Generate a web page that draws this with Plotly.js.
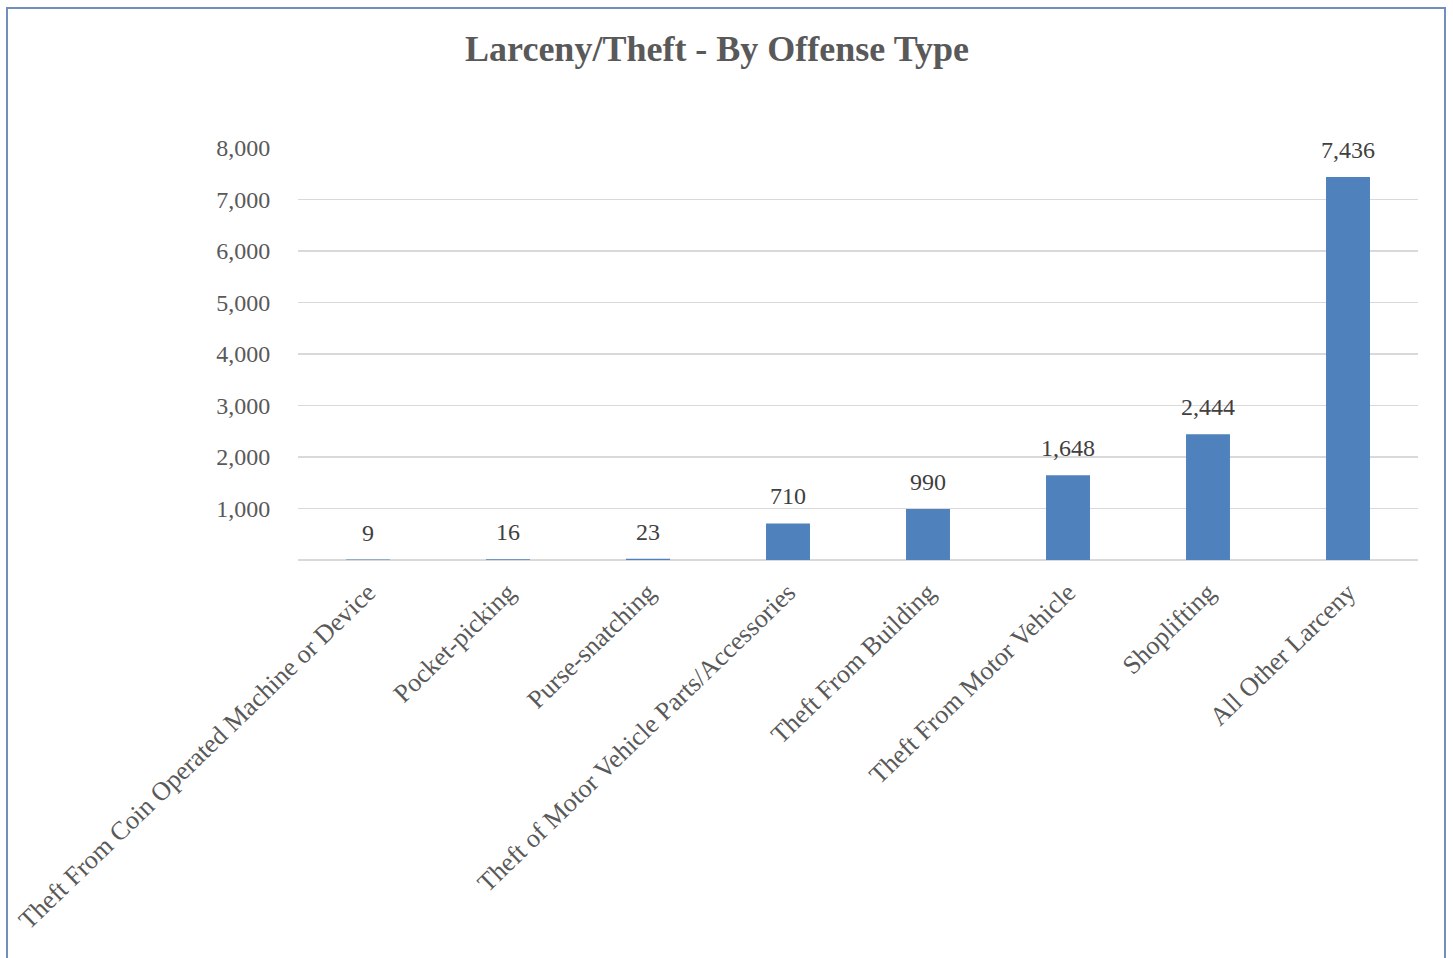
<!DOCTYPE html>
<html>
<head>
<meta charset="utf-8">
<script src="https://cdn.plot.ly/plotly-3.0.1.min.js"></script>
<style>
  html, body { margin: 0; padding: 0; background: #ffffff; }
  #wrap { position: relative; width: 1453px; height: 958px; overflow: hidden; }
  #chart { width: 1453px; height: 958px; }
  #frame { position: absolute; left: 6px; top: 7px; width: 1440px; height: 1000px;
           border: 2px solid #6f8fbd; box-sizing: border-box; pointer-events: none; }
</style>
</head>
<body>
<div id="wrap">
  <div id="chart"></div>
  <div id="frame"></div>
</div>
<script>
const categories = [
  "Theft From Coin Operated Machine or Device",
  "Pocket-picking",
  "Purse-snatching",
  "Theft of Motor Vehicle Parts/Accessories",
  "Theft From Building",
  "Theft From Motor Vehicle",
  "Shoplifting",
  "All Other Larceny"
];
const values = [9, 16, 23, 710, 990, 1648, 2444, 7436];
const gridTicks = [0, 1000, 2000, 3000, 4000, 5000, 6000, 7000];
const labelTicks = [1000, 2000, 3000, 4000, 5000, 6000, 7000, 8000];
const labelText = ["1,000", "2,000", "3,000", "4,000", "5,000", "6,000", "7,000", "8,000"];
const chartTitle = "Larceny/Theft - By Offense Type";

const serif = "Liberation Serif, Times New Roman, serif";

const trace = {
  type: "bar",
  x: categories,
  y: values,
  marker: { color: "#4f81bd" },
  hoverinfo: "x+y"
};

const valueLabels = categories.map((c, i) => ({
  x: c,
  y: values[i],
  xref: "x",
  yref: "y",
  text: values[i].toLocaleString("en-US"),
  showarrow: false,
  xanchor: "center",
  yanchor: "bottom",
  yshift: 12,
  font: { family: serif, size: 24, color: "#404040" }
}));

const layout = {
  width: 1453,
  height: 958,
  paper_bgcolor: "#ffffff",
  plot_bgcolor: "#ffffff",
  margin: { l: 298, r: 35, t: 148, b: 398 },
  showlegend: false,
  bargap: 0.686,
  title: {
    text: "<b>" + chartTitle + "</b>",
    font: { family: serif, size: 36, color: "#595959" },
    x: 0.4935, xanchor: "center",
    y: 0.949, yanchor: "middle"
  },
  annotations: valueLabels,
  xaxis: {
    type: "category",
    tickangle: -44,
    tickfont: { family: serif, size: 26, color: "#595959" },
    showline: false,
    ticks: "outside",
    ticklen: 6,
    tickcolor: "rgba(0,0,0,0)",
    showgrid: false,
    automargin: false
  },
  yaxis: {
    range: [0, 8000],
    tickvals: gridTicks,
    showticklabels: false,
    showgrid: true,
    gridcolor: "#d9d9d9",
    gridwidth: 1.3,
    zeroline: true,
    zerolinecolor: "#d9d9d9",
    zerolinewidth: 1.6,
    showline: false,
    ticks: "",
    fixedrange: true,
    automargin: false
  },
  yaxis2: {
    overlaying: "y",
    side: "left",
    range: [0, 8000],
    tickvals: labelTicks,
    ticktext: labelText,
    tickfont: { family: serif, size: 24, color: "#595959" },
    showgrid: false,
    zeroline: false,
    showline: false,
    ticks: "outside",
    ticklen: 22,
    tickcolor: "rgba(0,0,0,0)",
    automargin: false
  }
};

const dummy = {
  type: "scatter",
  x: [categories[0]],
  y: [0],
  yaxis: "y2",
  mode: "markers",
  marker: { opacity: 0 },
  hoverinfo: "skip",
  showlegend: false
};

Plotly.newPlot("chart", [trace, dummy], layout, { displayModeBar: false, staticPlot: true });
</script>
</body>
</html>
